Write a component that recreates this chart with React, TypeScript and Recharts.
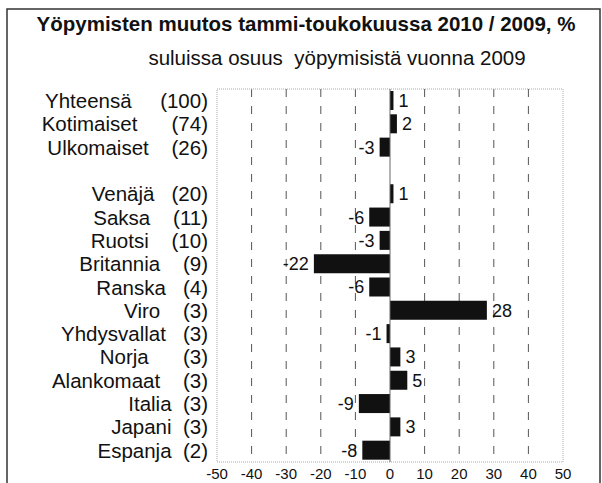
import React from 'react';
import { BarChart, Bar, XAxis, YAxis, CartesianGrid, ReferenceLine, ReferenceArea, LabelList } from 'recharts';

const title = 'Yöpymisten muutos tammi-toukokuussa 2010 / 2009, %';
const subtitle = 'suluissa osuus  yöpymisistä vuonna 2009';

const categories = [
  'Yhteensä     (100)',
  'Kotimaiset      (74)',
  'Ulkomaiset    (26)',
  '',
  'Venäjä   (20)',
  'Saksa    (11)',
  'Ruotsi    (10)',
  'Britannia    (9)',
  'Ranska   (4)',
  'Viro    (3)',
  'Yhdysvallat   (3)',
  'Norja      (3)',
  'Alankomaat    (3)',
  'Italia  (3)',
  'Japani  (3)',
  'Espanja  (2)',
];

const changes: (number | null)[] = [1, 2, -3, null, 1, -6, -3, -22, -6, 28, -1, 3, 5, -9, 3, -8];

const xTicks = [-50, -40, -30, -20, -10, 0, 10, 20, 30, 40, 50];
const gridValues = [-40, -30, -20, -10, 10, 20, 30, 40];

const data = categories.map((label, i) => ({ label, value: changes[i] }));

const FONT = '"Liberation Sans", Arial, sans-serif';
const INK = '#111';

const YTick = (props: any) => {
  const { x, y, payload } = props;
  return (
    <text x={x} y={y} dy="0.36em" textAnchor="end" fontFamily={FONT} fontSize={20.5} fill={INK} style={{ whiteSpace: 'pre' }}>
      {payload.value}
    </text>
  );
};

const XTick = (props: any) => {
  const { x, y, payload } = props;
  return (
    <text x={x} y={y + 17} textAnchor="middle" fontFamily={FONT} fontSize={15} fill={INK}>
      {payload.value}
    </text>
  );
};

const ValueLabel = (props: any) => {
  const { x, y, width, height, value } = props;
  if (value === null || value === undefined) return null;
  const left = Math.min(x, x + width);
  const right = Math.max(x, x + width);
  const pos = value >= 0;
  return (
    <text
      x={pos ? right + 5 : left - 5}
      y={y + height / 2}
      dy="0.36em"
      textAnchor={pos ? 'start' : 'end'}
      fontFamily={FONT}
      fontSize={18}
      fill={INK}
    >
      {value}
    </text>
  );
};

export default function App() {
  return (
    <div style={{ position: 'absolute', left: 0, top: 0, width: 602, height: 483, overflow: 'hidden', background: '#fff' }}>
      <BarChart
        width={602}
        height={500}
        data={data}
        layout="vertical"
        margin={{ top: 89, right: 39, left: 0, bottom: 8 }}
      >
        <CartesianGrid horizontal={false} verticalValues={gridValues} stroke="#555" strokeDasharray="8 9" />
        <ReferenceArea x1={-50} x2={50} fill="none" stroke="#aaa" strokeDasharray="1 1" />
        <XAxis
          type="number"
          domain={[-50, 50]}
          ticks={xTicks}
          interval={0}
          axisLine={false}
          tickLine={false}
          tickSize={0}
          tickMargin={0}
          height={30}
          tick={<XTick />}
        />
        <YAxis
          type="category"
          dataKey="label"
          width={217}
          axisLine={false}
          tickLine={false}
          tickSize={0}
          tickMargin={9}
          interval={0}
          tick={<YTick />}
        />
        <ReferenceLine x={0} stroke="#666" strokeWidth={1} />
        <Bar dataKey="value" fill={INK} barSize={19} isAnimationActive={false}>
          <LabelList dataKey="value" content={<ValueLabel />} />
        </Bar>
      </BarChart>
      <svg width={602} height={483} style={{ position: 'absolute', left: 0, top: 0, pointerEvents: 'none' }}>
        <rect x={7} y={9} width={593} height={500} fill="none" stroke="#333" strokeWidth={1.5} />
        <text x={306} y={31} textAnchor="middle" fontFamily={FONT} fontWeight="bold" fontSize={20.5} fill={INK}>
          {title}
        </text>
        <text x={337} y={65} textAnchor="middle" fontFamily={FONT} fontSize={20.5} fill={INK} style={{ whiteSpace: 'pre' }}>
          {subtitle}
        </text>
      </svg>
    </div>
  );
}
